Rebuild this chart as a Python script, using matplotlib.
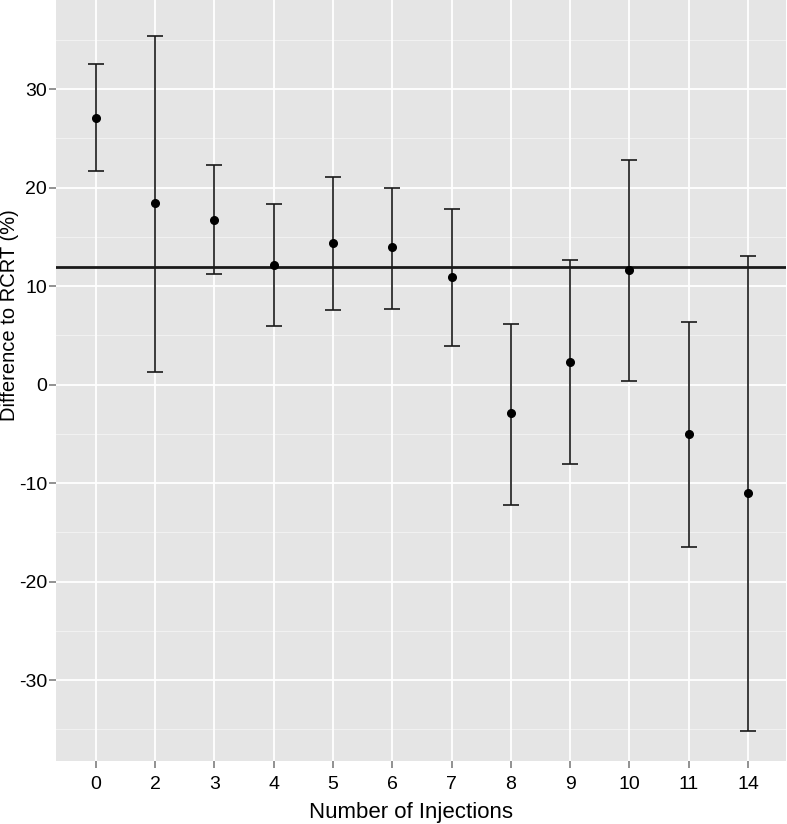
import matplotlib
matplotlib.use("Agg")
import matplotlib.pyplot as plt
import numpy as np

categories = ["0", "2", "3", "4", "5", "6", "7", "8", "9", "10", "11", "14"]
means = [27.1, 18.4, 16.7, 12.2, 14.4, 14.0, 10.9, -2.9, 2.3, 11.6, -5.0, -11.0]
upper = [32.6, 35.4, 22.3, 18.3, 21.1, 20.0, 17.8, 6.2, 12.7, 22.8, 6.4, 13.1]
lower = [21.7, 1.3, 11.2, 6.0, 7.6, 7.7, 3.9, -12.2, -8.1, 0.4, -16.5, -35.2]
reference_line = 11.9
yticks = [-30, -20, -10, 0, 10, 20, 30]

plt.rcParams['font.family'] = ['Liberation Sans', 'DejaVu Sans']
plt.rcParams['axes.unicode_minus'] = False

fig = plt.figure(figsize=(7.87, 8.24), dpi=100)
ax = fig.add_axes([56/787, 63/824, 730/787, 761/824])
ax.set_facecolor('#e5e5e5')

x = np.arange(len(categories))
means_a = np.array(means)
yerr = np.vstack([means_a - np.array(lower), np.array(upper) - means_a])

ax.set_xlim(-0.67, 11.64)
ax.set_ylim(-38.2, 39.05)

# grid
for y in yticks:
    ax.axhline(y, color='white', lw=1.3, zorder=1)
for y in np.arange(-35, 40, 10):
    ax.axhline(y, color='#f2f2f2', lw=0.7, zorder=1)
for xi in x:
    ax.axvline(xi, color='white', lw=1.3, zorder=1)

ax.axhline(reference_line, color='#1a1a1a', lw=2.0, zorder=3)
ax.errorbar(x, means, yerr=yerr, fmt='o', color='black', ms=5.5,
            ecolor='#1a1a1a', elinewidth=1.2, capsize=6, capthick=1.2, zorder=4)

ax.set_xticks(x)
ax.set_xticklabels(categories)
ax.set_yticks(yticks)
ax.tick_params(axis='both', colors='#7f7f7f', length=5, width=1.2, labelsize=14,
               labelcolor='black')
ax.tick_params(axis='y', pad=1.5)
ax.tick_params(axis='x', pad=5.5)
for s in ax.spines.values():
    s.set_visible(False)
ax.set_xlabel('Number of Injections', fontsize=16)
ax.set_ylabel('Difference to RCRT (%)', fontsize=14.5)
ax.xaxis.set_label_coords(0.486, -0.054)
ax.yaxis.set_label_coords(-0.051, 0.586)

fig.savefig('out.png', dpi=100)
